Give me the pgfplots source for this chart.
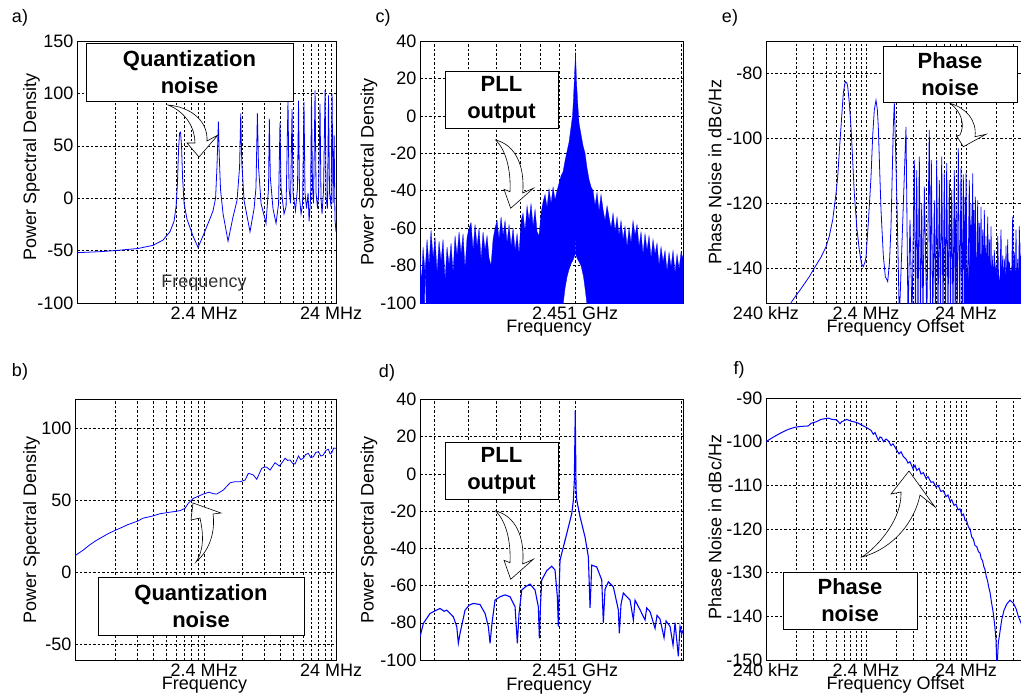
\documentclass[border=0pt]{standalone}
\usepackage{fontspec}
\setmainfont{Liberation Sans}
\usepackage{pgfplots}
\pgfplotsset{compat=1.18}

\newcommand{\lbl}{\fontsize{18bp}{21bp}\selectfont}
\newcommand{\bx}{\fontsize{22bp}{27bp}\selectfont\bfseries}

\pgfplotsset{
  panel/.style={
    scale only axis, anchor=north west,
    axis line style={line width=0.8bp},
    xmajorgrids, xminorgrids, ymajorgrids,
    major grid style={black, line width=0.5bp, dash pattern=on 2.5bp off 2bp},
    minor grid style={black, line width=0.5bp, dash pattern=on 2.5bp off 2bp},
    major tick length=0pt, minor tick length=0pt,
    tick label style={font=\lbl},
    /pgf/number format/assume math mode=true,
    no marks,
  },
  trace/.style={blue, line width=0.8bp, no marks},
  % x in decades above 240 kHz
  logminor/.style={minor xtick={0.301,0.477,0.602,0.699,0.778,0.845,0.903,0.954,
    1.301,1.477,1.602,1.699,1.778,1.845,1.903,1.954,2.301,2.477,2.602}},
  % x in decades relative to the carrier
  rfminor/.style={minor xtick={-0.398,-0.301,-0.222,-0.155,-0.097,-0.046,0.301}},
}
\tikzset{arr/.style={draw=black, fill=white, line width=0.6bp}}

\begin{document}
\begin{tikzpicture}
\path[use as bounding box] (0,0) rectangle (1021bp,-698bp);

% a) quantization noise, spectrum
\begin{axis}[panel, logminor, at={(77bp,-41bp)}, width=259bp, height=262bp,
  xmin=0, xmax=2.039, ymin=-100, ymax=150, ytick={-100,-50,...,150},
  xtick={1,2}, xticklabels={2.4 MHz,24 MHz}]
\addplot[trace] coordinates {(0,-52) (0.181,-51) (0.299,-50) (0.480,-48) (0.598,-45) (0.677,-40)
 (0.732,-32) (0.764,-22) (0.780,-8) (0.791,15) (0.799,45) (0.807,62) (0.815,63) (0.823,50)
 (0.831,20) (0.843,-5) (0.866,-20) (0.913,-36) (0.953,-47) (0.992,-36) (1.039,-22) (1.071,-12)
 (1.091,0) (1.102,30) (1.113,73) (1.120,40) (1.130,8) (1.150,-15) (1.189,-41) (1.228,-18)
 (1.260,-2) (1.280,30) (1.289,81) (1.297,35) (1.315,-2) (1.362,-32) (1.394,-10) (1.409,10)
 (1.420,81) (1.429,30) (1.449,-5) (1.488,-24) (1.508,10) (1.514,76) (1.522,20) (1.543,-10)
 (1.567,-24) (1.587,-5) (1.598,72) (1.606,10) (1.630,-15) (1.646,-8) (1.661,93) (1.669,10)
 (1.681,-5) (1.693,85) (1.701,5) (1.720,-12) (1.736,10) (1.744,93) (1.752,0) (1.764,-15)
 (1.776,-5) (1.787,92) (1.795,5) (1.807,-10) (1.819,5) (1.827,-22) (1.839,0) (1.846,97)
 (1.854,10) (1.862,-5) (1.874,103) (1.882,5) (1.894,-10) (1.902,5) (1.913,90) (1.921,0)
 (1.929,-15) (1.941,8) (1.953,103) (1.961,0) (1.972,-10) (1.980,98) (1.988,5) (2.000,-8)
 (2.008,100) (2.016,-5) (2.024,60) (2.031,-20) (2.039,-32)};
\end{axis}

% b) shaped quantization noise
\begin{axis}[panel, logminor, at={(75bp,-399bp)}, width=261bp, height=261bp,
  xmin=-0.016, xmax=2.039, ymin=-60.7, ymax=120, ytick={-50,0,50,100},
  xtick={1,2}, xticklabels={2.4 MHz,24 MHz}]
\addplot[trace] coordinates {(-0.016,11.5) (0.05,15.5) (0.10,19) (0.15,22) (0.20,24.5) (0.25,27)
 (0.299,29) (0.35,31) (0.40,33) (0.478,35.5) (0.52,37.5) (0.596,39) (0.65,40.5) (0.706,41.3)
 (0.76,42) (0.811,42.7) (0.850,44.3) (0.876,47.8) (0.916,51.2) (0.95,52.5) (0.994,54.2)
 (1.04,55.5) (1.07,54.5) (1.10,54.2) (1.152,57) (1.205,62) (1.24,62.7) (1.283,62.7)
 (1.323,63.9) (1.349,68.5) (1.37,68) (1.388,67.4) (1.415,64.4) (1.454,72) (1.48,73)
 (1.494,72.7) (1.520,70.8) (1.559,75.9) (1.593,73.6) (1.615,76) (1.638,79) (1.657,77.5)
 (1.677,77.8) (1.697,75.5) (1.717,75) (1.743,80.5) (1.762,78) (1.782,79) (1.80,81.5)
 (1.821,82.4) (1.84,79.5) (1.861,80) (1.88,83) (1.900,83.5) (1.92,80.5) (1.939,81.2)
 (1.96,84.5) (1.979,85.2) (1.993,82) (2.006,82.8) (2.02,86) (2.039,85.9)};
\end{axis}

% c) PLL output spectrum, unshaped
\begin{axis}[panel, rfminor, at={(420bp,-41bp)}, width=263bp, height=262bp,
  xmin=-0.438, xmax=0.305, ymin=-100, ymax=40, ytick={-100,-80,...,40},
  xtick={0}, xticklabels={2.451 GHz}]
\addplot[trace, fill=blue, line width=0.3bp] coordinates {
 (-0.4379,-74) (-0.4336,-90) (-0.4294,-70) (-0.4237,-84) (-0.4181,-66) (-0.4124,-80)
 (-0.4068,-61) (-0.4011,-76) (-0.3955,-65) (-0.3898,-84) (-0.3842,-67) (-0.3785,-78)
 (-0.3729,-66) (-0.3672,-88) (-0.3616,-70) (-0.3559,-80) (-0.3503,-68) (-0.3446,-84)
 (-0.339,-64) (-0.3333,-75) (-0.3277,-62) (-0.322,-74) (-0.3164,-63) (-0.3107,-82)
 (-0.3051,-65) (-0.2994,-60) (-0.2938,-57) (-0.2881,-72) (-0.2825,-58) (-0.2768,-70)
 (-0.2712,-60) (-0.2655,-77) (-0.2599,-62) (-0.2542,-72) (-0.2486,-64) (-0.2429,-76)
 (-0.2373,-80) (-0.2316,-66) (-0.226,-60) (-0.2203,-56) (-0.2147,-66) (-0.209,-54)
 (-0.2034,-64) (-0.1977,-56) (-0.1921,-68) (-0.1864,-58) (-0.1808,-70) (-0.1751,-60)
 (-0.1695,-72) (-0.1638,-63) (-0.1582,-74) (-0.1525,-56) (-0.1469,-52) (-0.1412,-62)
 (-0.1356,-48) (-0.1299,-56) (-0.1243,-47) (-0.1186,-59) (-0.113,-50) (-0.1073,-62)
 (-0.1017,-64) (-0.096,-52) (-0.0904,-46) (-0.0847,-42) (-0.0791,-49) (-0.0734,-39)
 (-0.0678,-47) (-0.0621,-38) (-0.0565,-45) (-0.0508,-40) (-0.0452,-36) (-0.0395,-32)
 (-0.0339,-30) (-0.0282,-24) (-0.0226,-19) (-0.0169,-14) (-0.0113,-6) (-0.0071,0)
 (-0.0042,10) (-0.0014,22) (0.0014,34) (0.0042,18) (0.0071,8) (0.0113,-4) (0.0169,-10)
 (0.0226,-16) (0.0282,-20) (0.0339,-28) (0.0395,-34) (0.0452,-38) (0.0508,-40) (0.0565,-48)
 (0.0621,-41) (0.0678,-51) (0.0734,-42) (0.0791,-50) (0.0847,-56) (0.0904,-48) (0.096,-54)
 (0.1017,-60) (0.1073,-52) (0.113,-62) (0.1186,-54) (0.1243,-64) (0.1299,-56) (0.1356,-66)
 (0.1412,-59) (0.1469,-70) (0.1525,-60) (0.1582,-68) (0.1638,-56) (0.1695,-64) (0.1751,-58)
 (0.1808,-70) (0.1864,-62) (0.1921,-74) (0.1977,-63) (0.2034,-72) (0.209,-64) (0.2147,-76)
 (0.2203,-66) (0.226,-74) (0.2316,-68) (0.2373,-80) (0.2429,-70) (0.2486,-78) (0.2542,-72)
 (0.2599,-83) (0.2655,-73) (0.2712,-81) (0.2768,-72) (0.2825,-84) (0.2881,-74) (0.2938,-82)
 (0.2994,-73) (0.305,-76)
 (0.305,-101) (0.0339,-101) (0.0282,-92) (0.024,-86) (0.0169,-80) (0.0113,-78) (0.0056,-76)
 (0.0023,-74) (0.0017,-45) (0.0006,-45) (0,-74) (-0.0056,-77) (-0.0113,-79) (-0.0169,-82)
 (-0.0226,-86) (-0.0282,-92) (-0.0339,-101) (-0.4209,-101) (-0.4223,-84) (-0.4237,-84)
 (-0.4251,-101) (-0.4379,-101)};
\end{axis}

% d) PLL output spectrum, shaped
\begin{axis}[panel, rfminor, at={(420bp,-399.5bp)}, width=263bp, height=260.5bp,
  xmin=-0.438, xmax=0.305, ymin=-100, ymax=40, ytick={-100,-80,...,40},
  xtick={0}, xticklabels={2.451 GHz}]
\addplot[trace, line width=1.1bp] coordinates {(-0.438,-87.5) (-0.4285,-80.3) (-0.4096,-75) (-0.395,-73.5)
 (-0.3814,-72.3) (-0.37,-73.8) (-0.3624,-73.2) (-0.3438,-76.8) (-0.3342,-82) (-0.3297,-91)
 (-0.3249,-85.7) (-0.3107,-73.2) (-0.2990,-70.5) (-0.2873,-69.6) (-0.2684,-70.2) (-0.2542,-75)
 (-0.2449,-82) (-0.2401,-91) (-0.2345,-80) (-0.226,-67.8) (-0.212,-66) (-0.1977,-65)
 (-0.1836,-66) (-0.1695,-71.4) (-0.163,-91) (-0.1582,-75) (-0.1506,-62.4) (-0.139,-60.5)
 (-0.1271,-59.2) (-0.113,-62.4) (-0.1037,-71.4) (-0.1008,-88.4) (-0.0975,-70) (-0.0941,-57)
 (-0.08,-52) (-0.0658,-49.6) (-0.0565,-51.7) (-0.05,-66) (-0.0472,-82) (-0.0446,-60)
 (-0.0424,-46.4) (-0.0234,-32) (-0.0093,-21.3) (-0.0048,-14.2) (-0.002,-3.4) (0.0006,33.7)
 (0.0028,-8) (0.0048,-14) (0.0141,-23) (0.0282,-33.9) (0.0376,-44.6) (0.0424,-72) (0.0472,-49)
 (0.0613,-50) (0.0754,-57) (0.0799,-80) (0.0847,-62) (0.0941,-58) (0.1082,-60.7) (0.1223,-73)
 (0.1251,-85.7) (0.1299,-70) (0.1364,-64) (0.1554,-67.8) (0.1647,-78.5) (0.1695,-67.8)
 (0.1836,-73) (0.1977,-78.5) (0.2025,-72) (0.2119,-74) (0.226,-83) (0.2316,-76) (0.2401,-78)
 (0.2514,-88) (0.2571,-79) (0.2684,-82) (0.2768,-92) (0.2825,-80) (0.2918,-98) (0.2966,-82)
 (0.3014,-86) (0.305,-84)};
\end{axis}

% e) phase noise, unshaped
\begin{axis}[panel, logminor, at={(766bp,-41bp)}, width=262bp, height=262bp,
  xmin=0, xmax=2.62, ymin=-150.6, ymax=-70, ytick={-140,-120,-100,-80},
  xtick={0,1,2}, xticklabels={240 kHz,2.4 MHz,24 MHz}]
\addplot[trace, fill=blue, draw=none] coordinates {(1.98,-152) (1.98,-146) (2.0,-140) (2.02,-144)
 (2.04,-136) (2.06,-142) (2.08,-133) (2.1,-140) (2.12,-131) (2.14,-139) (2.16,-134) (2.18,-141)
 (2.2,-135) (2.22,-140) (2.24,-137) (2.27,-142) (2.3,-139) (2.33,-144) (2.36,-138) (2.39,-142)
 (2.42,-137) (2.45,-141) (2.48,-138) (2.51,-143) (2.54,-139) (2.57,-142) (2.6,-140) (2.62,-143)
 (2.62,-152)};
\addplot[trace] coordinates {(0.24,-153) (0.25,-150.5) (0.30,-148.3) (0.35,-146.2) (0.433,-142.5)
 (0.50,-139) (0.55,-136.5) (0.60,-133.3) (0.633,-130) (0.667,-125) (0.70,-117) (0.717,-111.8)
 (0.733,-104) (0.75,-96.4) (0.773,-86) (0.793,-82.5) (0.81,-83) (0.817,-84) (0.833,-89)
 (0.85,-96.4) (0.867,-107) (0.883,-116.9) (0.91,-128) (0.933,-134.3) (0.955,-138.5)
 (0.973,-139.4) (0.99,-138) (1.00,-136.4) (1.025,-125) (1.05,-111.8) (1.067,-99) (1.083,-91.2)
 (1.10,-88.2) (1.113,-91) (1.123,-96.4) (1.137,-110) (1.15,-122) (1.173,-136) (1.193,-142.5)
 (1.217,-144) (1.235,-138) (1.25,-127) (1.263,-110) (1.273,-96.4) (1.283,-89) (1.293,-100)
 (1.307,-116.9) (1.32,-135) (1.333,-156)
 (1.40,-96.4) (1.42,-156) (1.44,-125) (1.46,-156) (1.483,-106.6) (1.495,-156) (1.507,-109.7)
 (1.52,-156) (1.533,-105.6) (1.545,-156) (1.557,-120) (1.57,-156) (1.583,-114.8) (1.608,-156)
 (1.633,-97.4) (1.643,-156) (1.653,-106.6) (1.668,-156) (1.683,-119) (1.695,-156)
 (1.707,-106.6) (1.72,-156) (1.733,-112.8) (1.745,-156) (1.757,-105.6) (1.77,-156)
 (1.783,-110.7) (1.795,-156) (1.807,-107.6) (1.82,-156) (1.833,-112.8) (1.845,-156)
 (1.857,-115.8) (1.87,-156) (1.883,-109.7) (1.892,-156) (1.90,-120) (1.912,-156) (1.923,-103)
 (1.937,-156) (1.95,-109.1) (1.962,-156) (1.973,-111) (1.982,-156) (1.99,-118) (1.995,-156)
 (2.0,-110.7) (2.017,-156) (2.033,-112.8) (2.042,-156) (2.05,-120) (2.058,-156) (2.067,-110.7)
 (2.074,-156) (2.08,-122) (2.087,-156) (2.093,-117.9) (2.105,-156) (2.117,-119) (2.125,-156)
 (2.133,-126) (2.142,-156) (2.15,-121) (2.158,-156) (2.167,-128) (2.175,-156) (2.183,-122)
 (2.192,-156) (2.20,-130) (2.208,-156) (2.217,-124) (2.225,-156) (2.233,-131) (2.242,-156)
 (2.25,-127) (2.258,-156) (2.267,-136) (2.275,-156) (2.283,-134.3) (2.292,-156) (2.30,-138)
 (2.308,-156) (2.317,-130) (2.333,-156) (2.35,-128) (2.358,-156) (2.367,-136) (2.375,-156)
 (2.383,-137) (2.392,-156) (2.40,-133) (2.408,-156) (2.417,-131) (2.425,-156) (2.433,-138)
 (2.45,-156) (2.467,-124) (2.475,-156) (2.483,-135) (2.492,-156) (2.50,-128) (2.508,-156)
 (2.517,-137) (2.525,-156) (2.533,-127) (2.542,-156) (2.55,-132) (2.558,-156) (2.567,-136)
 (2.575,-156) (2.583,-130) (2.592,-156) (2.60,-134) (2.61,-156)};
\end{axis}

% f) phase noise, shaped
\begin{axis}[panel, logminor, at={(766bp,-398bp)}, width=262bp, height=262bp,
  xmin=0, xmax=2.62, ymin=-150, ymax=-90, ytick={-150,-140,...,-90},
  xtick={0,1,2}, xticklabels={240 kHz,2.4 MHz,24 MHz}]
\addplot[trace, line width=1bp] coordinates {(0,-100) (0.07,-99) (0.14,-98.1) (0.22,-97.2) (0.29,-96.7) (0.35,-96.5)
 (0.423,-96.4) (0.45,-95.8) (0.507,-95.4) (0.55,-94.9) (0.623,-94.6) (0.66,-94.9) (0.707,-95)
 (0.74,-95.9) (0.757,-95.4) (0.78,-95.2) (0.807,-94.9) (0.85,-95.3) (0.907,-95.6) (0.95,-96.1)
 (1.007,-96.8) (1.05,-97.4) (1.073,-98.3) (1.09,-97.9) (1.11,-99) (1.123,-99.7) (1.14,-98.9)
 (1.157,-99.1) (1.175,-100) (1.2,-99.4) (1.223,-99.8) (1.25,-100.9) (1.27,-100.5)
 (1.307,-101.9) (1.33,-102.8) (1.35,-102.3) (1.373,-103.4) (1.40,-104) (1.42,-104.9)
 (1.44,-104.6) (1.47,-106.2) (1.49,-105.4) (1.507,-106.6) (1.53,-106.1) (1.55,-107.4)
 (1.573,-107.1) (1.60,-108.4) (1.62,-108) (1.65,-109.3) (1.673,-109.2) (1.70,-110.4)
 (1.72,-110) (1.75,-111.4) (1.773,-111.2) (1.80,-112.6) (1.82,-112.2) (1.84,-113.6)
 (1.857,-113.3) (1.88,-114.6) (1.90,-114.3) (1.92,-115.6) (1.94,-115.4) (1.96,-116.9)
 (1.975,-116.6) (1.99,-118) (2.007,-118.2) (2.025,-119.6) (2.04,-120) (2.057,-121.8)
 (2.073,-122.3) (2.09,-123.8) (2.107,-124) (2.125,-125.2) (2.14,-125.5) (2.152,-126.8)
 (2.165,-127.2) (2.178,-128.6) (2.19,-129.3) (2.203,-130.9) (2.215,-131.8) (2.228,-133.4)
 (2.24,-134.5) (2.255,-136.8) (2.273,-139.3) (2.288,-142.3) (2.30,-145.4) (2.307,-150.6)
 (2.313,-150.6) (2.323,-146) (2.333,-144.6) (2.357,-140.8) (2.38,-138.6) (2.407,-137.2)
 (2.44,-136.3) (2.473,-137) (2.50,-138.2) (2.523,-140) (2.55,-141.5) (2.58,-144) (2.62,-148)};
\end{axis}

% labels, boxes and arrows (page pixels, y downwards)
\begin{scope}[x=1bp, y=-1bp]
\node[font=\lbl] at (20,18) {a)};
\node[font=\lbl] at (20,372) {b)};
\node[font=\lbl] at (383,18) {c)};
\node[font=\lbl] at (387,373) {d)};
\node[font=\lbl] at (730,18) {e)};
\node[font=\lbl] at (739,370) {f)};

\node[font=\lbl, rotate=90] at (31.5,167) {Power Spectral Density};
\node[font=\lbl, rotate=90] at (31.5,530) {Power Spectral Density};
\node[font=\lbl, rotate=90] at (369,172) {Power Spectral Density};
\node[font=\lbl, rotate=90] at (369,530) {Power Spectral Density};
\node[font=\lbl, rotate=90] at (715,172) {Phase Noise in dBc/Hz};
\node[font=\lbl, rotate=90] at (715,527) {Phase Noise in dBc/Hz};

\node[font=\lbl, text=black!80] at (204,283) {Frequency};
\node[font=\lbl] at (204.5,685) {Frequency};
\node[font=\lbl] at (549,328) {Frequency};
\node[font=\lbl] at (549,686) {Frequency};
\node[font=\lbl] at (895.5,328) {Frequency Offset};
\node[font=\lbl] at (895.5,685) {Frequency Offset};

\node[draw, line width=0.8bp, fill=white, font=\bx, align=center, inner sep=0pt,
  minimum width=207bp, minimum height=58bp] at (189.5,72) {Quantization\\noise};
\node[draw, line width=0.8bp, fill=white, font=\bx, align=center, inner sep=0pt,
  minimum width=206bp, minimum height=58bp] at (201,606) {Quantization\\noise};
\node[draw, line width=0.8bp, fill=white, font=\bx, align=center, inner sep=0pt,
  minimum width=113bp, minimum height=57bp] at (501.5,99.5) {PLL\\output};
\node[draw, line width=0.8bp, fill=white, font=\bx, align=center, inner sep=0pt,
  minimum width=113bp, minimum height=57bp] at (501.5,470.5) {PLL\\output};
\node[draw, line width=0.8bp, fill=white, font=\bx, align=center, inner sep=0pt,
  minimum width=134bp, minimum height=56bp] at (950,74) {Phase\\noise};
\node[draw, line width=0.8bp, fill=white, font=\bx, align=center, inner sep=0pt,
  minimum width=134bp, minimum height=57bp] at (850,600.5) {Phase\\noise};

\draw[arr] (168,105) .. controls (190,107) and (208,120) .. (207,141) -- (218,135)
  -- (199,157) -- (187,143) -- (195,143) .. controls (195,128) and (186,112) .. cycle;
\draw[arr] (196,562) .. controls (212,548) and (215,528) .. (213,514) -- (221,513)
  -- (193,503) -- (191,520) -- (200,518) .. controls (203,532) and (205,548) .. cycle;
\draw[arr] (495.7,140) .. controls (515,145) and (525,165) .. (522.7,193) -- (533.3,188.3)
  -- (510.7,208.3) -- (504,189.3) -- (510,191.7) .. controls (511,170) and (506,150) .. cycle;
\draw[arr] (495.7,511) .. controls (515,516) and (525,536) .. (522.7,564) -- (533.3,559.3)
  -- (510.7,579.3) -- (504,560.3) -- (510,562.7) .. controls (511,541) and (506,521) .. cycle;
\draw[arr] (950,103.3) .. controls (966,108) and (977,120) .. (975,136.7) -- (986,134.3)
  -- (963.3,146.7) -- (956.7,136) -- (960,135) .. controls (965,125) and (962,112) .. cycle;
\draw[arr] (862,557) .. controls (880,545) and (902,518) .. (901,492) -- (891,494)
  -- (909,471) -- (935,507) -- (920,495) .. controls (915,520) and (895,548) .. cycle;
\end{scope}
\end{tikzpicture}
\end{document}
